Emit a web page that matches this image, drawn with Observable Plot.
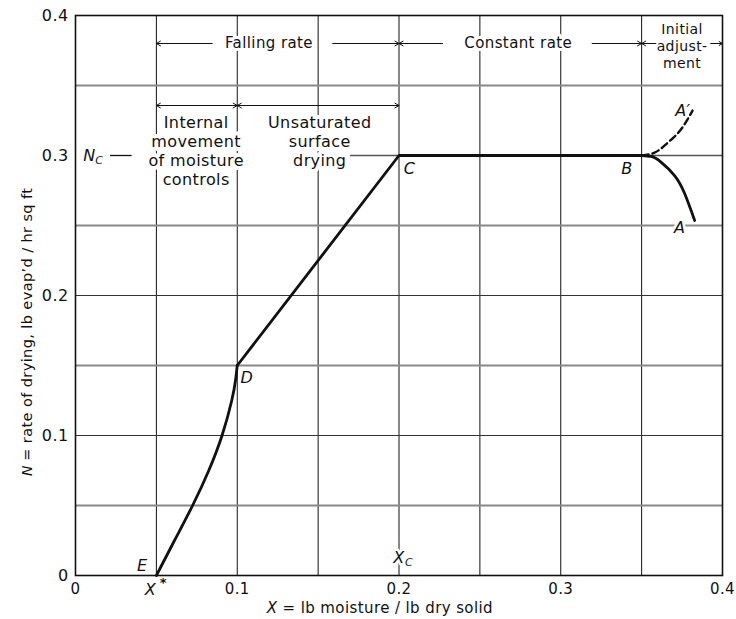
<!DOCTYPE html>
<html><head><meta charset="utf-8">
<script src="https://cdn.jsdelivr.net/npm/d3@7"></script>
<script src="https://cdn.jsdelivr.net/npm/@observablehq/plot@0.6"></script>
<style>body{margin:0;background:#fff}</style>
</head><body><div id="chart"></div>
<script>
// ---- data ----
const xTicks = [0, 0.1, 0.2, 0.3, 0.4];
const yTicks = [0, 0.1, 0.2, 0.3, 0.4];
const vGrid = [0.05, 0.1, 0.15, 0.2, 0.25, 0.3, 0.35];
const hGridDark = [0.1, 0.2];
const hGridLight = [0.05, 0.15, 0.25, 0.35];
const hGridPartial = [{x1: 0.17, x2: 0.4, y: 0.3}];
const ncDash = [{x1: 0.0216, x2: 0.035, y: 0.3}];

// E -> D : internal movement of moisture controls
const curveED = [
  {x: 0.05, y: 0}, {x: 0.0612, y: 0.025}, {x: 0.0724, y: 0.05},
  {x: 0.0824, y: 0.075}, {x: 0.0906, y: 0.1}, {x: 0.0966, y: 0.125},
  {x: 0.099, y: 0.14}, {x: 0.1, y: 0.15}
];
// D -> C -> B : unsaturated surface drying, constant rate
const lineDCB = [{x: 0.1, y: 0.15}, {x: 0.2, y: 0.3}, {x: 0.35, y: 0.3}];
// B -> A : initial adjustment (solid)
const curveBA = [
  {x: 0.35, y: 0.3}, {x: 0.356, y: 0.2993}, {x: 0.3618, y: 0.2955},
  {x: 0.3705, y: 0.2855}, {x: 0.3766, y: 0.2728}, {x: 0.3828, y: 0.2536}
];
// B -> A' : initial adjustment (dashed)
const curveBA2 = [
  {x: 0.35, y: 0.3}, {x: 0.358, y: 0.302}, {x: 0.3649, y: 0.3078},
  {x: 0.3723, y: 0.3158}, {x: 0.3772, y: 0.3235}, {x: 0.3815, y: 0.3321}
];

// single-headed arrows for the top band
const topArrows = [
  {x1: 0.0845, x2: 0.05, y: 0.38}, {x1: 0.159, x2: 0.2, y: 0.38},
  {x1: 0.2269, x2: 0.2, y: 0.38}, {x1: 0.3194, x2: 0.35, y: 0.38},
  {x1: 0.3588, x2: 0.35, y: 0.38}, {x1: 0.3927, x2: 0.4, y: 0.38}
];
// double-headed arrows for the second band (drawn from the midpoints)
const subArrows = [
  {x1: 0.075, x2: 0.05, y: 0.3357}, {x1: 0.075, x2: 0.1, y: 0.3357},
  {x1: 0.15, x2: 0.1, y: 0.3357}, {x1: 0.15, x2: 0.2, y: 0.3357}
];

const bandLabels = [
  {x: 0.1196, y: 0.38, text: "Falling rate"},
  {x: 0.2737, y: 0.38, text: "Constant rate"}
];
const initialLabel = [{x: 0.375, y: 0.3786, text: "Initial\nadjust-\nment"}];
const blockLabels = [
  {x: 0.0746, y: 0.3036, text: "Internal\nmovement\nof moisture\ncontrols"},
  {x: 0.151, y: 0.3104, text: "Unsaturated\nsurface\ndrying"}
];
const pointLabels = [
  {x: 0.3755, y: 0.332, text: "A\u2032"},
  {x: 0.3409, y: 0.2907, text: "B"},
  {x: 0.2065, y: 0.2907, text: "C"},
  {x: 0.106, y: 0.1414, text: "D"},
  {x: 0.0413, y: 0.0071, text: "E"},
  {x: 0.3735, y: 0.2486, text: "A"}
];
const subLetters = [
  {x: 0.0086, y: 0.3, main: "N", sub: "C"},
  {x: 0.2, y: 0.0129, main: "X", sub: "C"}
];
const xStar = [{x: 0.05, y: 0, main: "X", sup: "*"}];

const fmt = d => d === 0 ? "0" : String(d);
const ink = "#111";

const chart = Plot.plot({
  width: 736, height: 619,
  marginLeft: 75, marginRight: 14, marginTop: 15, marginBottom: 44,
  style: {fontFamily: "DejaVu Sans", fontSize: "15px", letterSpacing: "0.4px", background: "#fff", color: ink},
  x: {domain: [0, 0.4]},
  y: {domain: [0, 0.4]},
  marks: [
    Plot.ruleX(vGrid, {stroke: ink, strokeWidth: 1}),
    Plot.ruleY(hGridLight, {stroke: "#8a8a8a", strokeWidth: 1.8}),
    Plot.ruleY(hGridDark, {stroke: "#333", strokeWidth: 1.2}),
    Plot.ruleY(hGridPartial, {x1: "x1", x2: "x2", y: "y", stroke: "#555", strokeWidth: 1.5}),
    Plot.ruleY(ncDash, {x1: "x1", x2: "x2", y: "y", stroke: ink, strokeWidth: 1.3}),
    Plot.frame({stroke: ink, strokeWidth: 1.6}),
    Plot.axisY({ticks: yTicks, tickSize: 0, tickPadding: 7, fontSize: 16, tickFormat: fmt, label: null}),
    Plot.axisX({ticks: xTicks, tickSize: 0, tickPadding: 8, fontSize: 15, tickFormat: fmt, label: null}),
    // axis titles
    Plot.text([{x: 0.1215, y: 0}], {x: "x", y: "y", text: () => "X", dy: 33, fontStyle: "italic", fontSize: 15, fill: ink}),
    Plot.text([{x: 0.128, y: 0}], {x: "x", y: "y", text: () => "= lb moisture / lb dry solid", dy: 33, textAnchor: "start", fontSize: 15, fill: ink}),
    Plot.text([{x: 0, y: 0.075}], {x: "x", y: "y", text: () => "N", dx: -48, rotate: -90, fontStyle: "italic", fontSize: 14, fill: ink}),
    Plot.text([{x: 0, y: 0.082}], {x: "x", y: "y", text: () => "= rate of drying, lb evap\u2019d / hr sq ft", dx: -48, rotate: -90, textAnchor: "start", fontSize: 14.5, fill: ink}),
    // band labels & arrows
    Plot.text(bandLabels, {x: "x", y: "y", text: "text", fontSize: 15, fill: ink, stroke: "white", strokeWidth: 6}),
    Plot.text(initialLabel, {x: "x", y: "y", text: "text", fontSize: 14, lineHeight: 1.2, fill: ink}),
    Plot.arrow(topArrows, {x1: "x1", x2: "x2", y1: "y", y2: "y", stroke: ink, strokeWidth: 1, headLength: 7}),
    Plot.arrow(subArrows, {x1: "x1", x2: "x2", y1: "y", y2: "y", stroke: ink, strokeWidth: 1, headLength: 7}),
    Plot.text(blockLabels, {x: "x", y: "y", text: "text", fontSize: 16, lineHeight: 1.18, fill: ink, stroke: "white", strokeWidth: 8}),
    // curves
    Plot.line(curveED, {x: "x", y: "y", curve: "natural", stroke: ink, strokeWidth: 2.8}),
    Plot.line(lineDCB, {x: "x", y: "y", stroke: ink, strokeWidth: 2.8}),
    Plot.line(curveBA, {x: "x", y: "y", curve: "natural", stroke: ink, strokeWidth: 2.8}),
    Plot.line(curveBA2, {x: "x", y: "y", curve: "natural", stroke: ink, strokeWidth: 2.4, strokeDasharray: "7,4"}),
    // point labels
    Plot.text(pointLabels, {x: "x", y: "y", text: "text", fontStyle: "italic", fontSize: 16, fill: ink, stroke: "white", strokeWidth: 5}),
    Plot.text(subLetters, {x: "x", y: "y", text: "main", fontStyle: "italic", fontSize: 16, fill: ink, stroke: "white", strokeWidth: 5}),
    Plot.text(subLetters, {x: "x", y: "y", text: "sub", dx: 10, dy: 5, fontStyle: "italic", fontSize: 11, fill: ink}),
    Plot.text(xStar, {x: "x", y: "y", text: "main", dx: -6, dy: 14, fontStyle: "italic", fontSize: 16, fill: ink}),
    Plot.text(xStar, {x: "x", y: "y", text: "sup", dx: 7, dy: 7, fontSize: 13, fontWeight: "bold", fill: ink})
  ]
});
document.getElementById("chart").appendChild(chart);
</script>
</body></html>
